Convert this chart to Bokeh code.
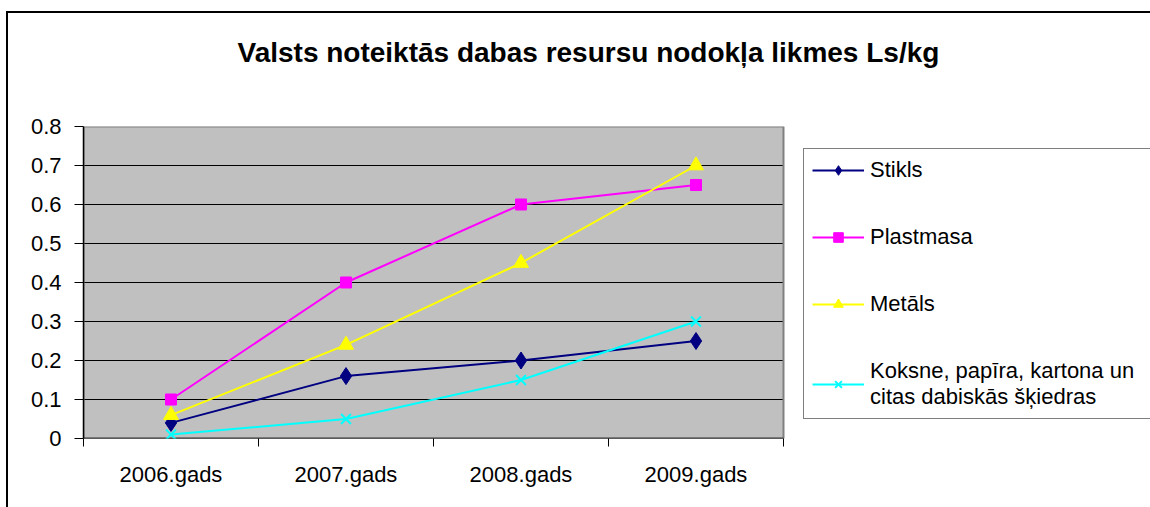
from bokeh.plotting import figure
from bokeh.models import FixedTicker, Legend, LegendItem, Range1d, Title
from bokeh.embed import file_html
from bokeh.resources import INLINE

# ---- data -------------------------------------------------------------
categories = ["2006.gads", "2007.gads", "2008.gads", "2009.gads"]
stikls = [0.04, 0.16, 0.20, 0.25]
plastmasa = [0.10, 0.40, 0.60, 0.65]
metals = [0.06, 0.24, 0.45, 0.70]
koksne = [0.01, 0.05, 0.15, 0.30]
y_ticks = [0, 0.1, 0.2, 0.3, 0.4, 0.5, 0.6, 0.7, 0.8]
series_names = ["Stikls", "Plastmasa", "Metāls",
                "Koksne, papīra, kartona un\ncitas dabiskās šķiedras"]
title_text = "Valsts noteiktās dabas resursu nodokļa likmes Ls/kg"

FONT = "Liberation Sans"

# ---- layout (pixels) ----------------------------------------------------
W, H = 1150, 507
PLOT_L, PLOT_R, PLOT_T, PLOT_B = 83, 783, 126, 438
n = len(categories)
frame_w = W - PLOT_L
x_end = n * frame_w / (PLOT_R - PLOT_L)   # plot area spans 0..n of the frame

x = [i + 0.5 for i in range(n)]
y_min, y_max = y_ticks[0], y_ticks[-1]

p = figure(width=W, height=H, output_backend="svg", toolbar_location=None,
           x_range=Range1d(0, x_end), y_range=Range1d(y_min, y_max),
           min_border_left=PLOT_L, min_border_right=0,
           min_border_top=PLOT_T, min_border_bottom=H - PLOT_B,
           background_fill_color="white",
           border_fill_color="white", border_fill_alpha=0,
           outline_line_color=None)

# outer chart border (left and top edges visible)
p.styles = {
    "background-image": "linear-gradient(black, black), linear-gradient(black, black)",
    "background-size": "2px 2000px, 2000px 2px",
    "background-position": "6px 11px, 6px 11px",
    "background-repeat": "no-repeat, no-repeat",
}

# trailing empty line lifts the title towards the top of the chart
p.title = Title(text=title_text + "\n", align="left", offset=154, standoff=55,
                text_font=FONT, text_font_size="28px", text_font_style="bold",
                text_color="black")

# plot area (grey) with grid lines
p.quad(left=[0], right=[n], bottom=[y_min], top=[y_max],
       fill_color="#C0C0C0", line_color=None)
grid_y = y_ticks[1:-1]
p.segment(x0=[0] * len(grid_y), x1=[n] * len(grid_y), y0=grid_y, y1=grid_y,
          line_color="black", line_width=1)
p.quad(left=[0], right=[n], bottom=[y_min], top=[y_max],
       fill_color=None, line_color="#808080", line_width=2)
p.segment(x0=[0], x1=[n], y0=[y_min], y1=[y_min], line_color="black",
          line_width=1.5)

# axes
p.xaxis.ticker = FixedTicker(ticks=x, minor_ticks=list(range(n + 1)))
p.xaxis.major_label_overrides = {xx: c for xx, c in zip(x, categories)}
p.xaxis.axis_line_color = None
p.xaxis.major_tick_out = 0
p.xaxis.major_tick_in = 0
p.xaxis.minor_tick_out = 8
p.xaxis.minor_tick_in = 0
p.xaxis.minor_tick_line_color = "black"
p.xaxis.major_label_standoff = 15

p.yaxis.ticker = FixedTicker(ticks=y_ticks, minor_ticks=[])
p.yaxis.major_label_overrides = {0: "0"}
p.yaxis.axis_line_color = "black"
p.yaxis.axis_line_width = 1.5
p.yaxis.major_tick_out = 9
p.yaxis.major_tick_in = 0
p.yaxis.minor_tick_out = 0
p.yaxis.minor_tick_in = 0
p.yaxis.major_label_standoff = 13

for ax in (p.xaxis, p.yaxis):
    ax.major_tick_line_color = "black"
    ax.major_label_text_font = FONT
    ax.major_label_text_font_size = "22px"
    ax.major_label_text_color = "black"

p.xgrid.grid_line_color = None
p.ygrid.grid_line_color = None

# series
l1 = p.line(x, stikls, line_color="#000080", line_width=2)
m1 = p.scatter(x, stikls, marker="diamond", size=17,
               fill_color="#000080", line_color="#000080")
l2 = p.line(x, plastmasa, line_color="#FF00FF", line_width=2)
m2 = p.scatter(x, plastmasa, marker="square", size=11,
               fill_color="#FF00FF", line_color="#FF00FF")
l3 = p.line(x, metals, line_color="#FFFF00", line_width=2)
m3 = p.scatter(x, metals, marker="triangle", size=15,
               fill_color="#FFFF00", line_color="#FFFF00")
l4 = p.line(x, koksne, line_color="#00FFFF", line_width=2)
m4 = p.scatter(x, koksne, marker="x", size=14, line_width=2,
               line_color="#00FFFF")

LEG_L, LEG_B = 803, 419
legend = Legend(items=[
    LegendItem(label=series_names[0], renderers=[l1, m1]),
    LegendItem(label=series_names[1], renderers=[l2, m2]),
    LegendItem(label=series_names[2], renderers=[l3, m3]),
    LegendItem(label=series_names[3], renderers=[l4, m4]),
], location=(LEG_L - PLOT_L, PLOT_B - LEG_B), orientation="vertical",
    glyph_width=52, glyph_height=24, label_height=24, label_width=300,
    label_standoff=6, spacing=41, padding=8,
    label_text_font=FONT, label_text_font_size="22px",
    label_text_line_height=1.35, label_text_color="black",
    border_line_color="black", border_line_width=1,
    background_fill_color="white", background_fill_alpha=1)
p.add_layout(legend, "center")

open("out.html", "w").write(file_html(p, INLINE))
